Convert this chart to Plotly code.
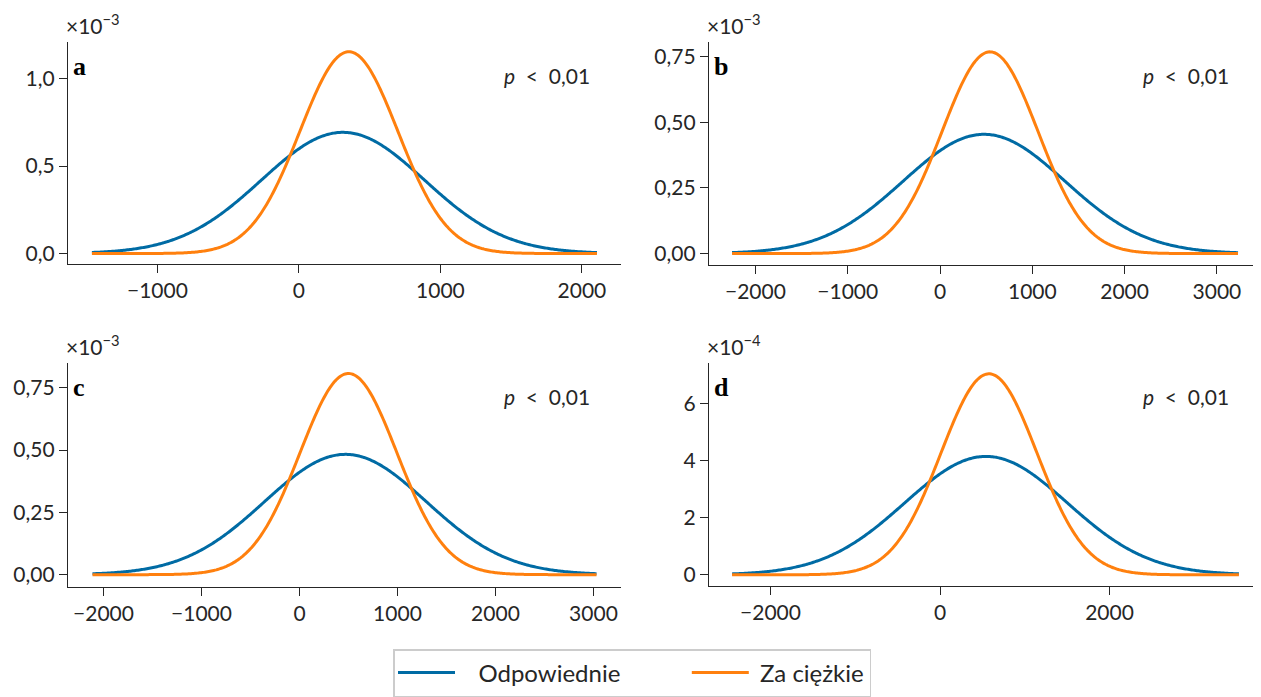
import numpy as np
import plotly.graph_objects as go
from plotly.subplots import make_subplots

# fitted normal distributions (mean, sd) per panel
panels = ["a", "b", "c", "d"]
mean_odp = [311, 477, 469, 543]
sd_odp = [576, 878, 826, 961]
mean_zac = [353, 542, 500, 578]
sd_zac = [346, 519, 494, 566]
# range over which curves are drawn
x_start = [-1463, -2253, -2112, -2454]
x_end = [2106, 3229, 3031, 3527]

# axes
x_ranges = [[-1632, 2276], [-2503, 3467], [-2362, 3281], [-2726, 3776]]
y_ranges = [[-0.057e-3, 1.21e-3], [-0.0417e-3, 0.807e-3], [-0.048e-3, 0.85e-3], [-0.38e-4, 7.43e-4]]
x_ticks = [[-1000, 0, 1000, 2000],
           [-2000, -1000, 0, 1000, 2000, 3000],
           [-2000, -1000, 0, 1000, 2000, 3000],
           [-2000, 0, 2000]]
y_ticks = [[0, 0.5e-3, 1.0e-3],
           [0, 0.25e-3, 0.5e-3, 0.75e-3],
           [0, 0.25e-3, 0.5e-3, 0.75e-3],
           [0, 2e-4, 4e-4, 6e-4]]
y_ticktext = [["0,0", "0,5", "1,0"],
              ["0,00", "0,25", "0,50", "0,75"],
              ["0,00", "0,25", "0,50", "0,75"],
              ["0", "2", "4", "6"]]
exponents = ["−3", "−3", "−3", "−4"]
p_text = "<i>p</i>  <  0,01"

series_names = ["Odpowiednie", "Za ciężkie"]
c_blue = "#006BA4"
c_orange = "#FF800E"
ink = "#262626"
font_main = "Lato"
nb = "\u00a0"


def normal_pdf(x, m, s):
    return np.exp(-0.5 * ((x - m) / s) ** 2) / (s * np.sqrt(2 * np.pi))


fig = make_subplots(rows=2, cols=2)

# the page body has an 8px margin, so the figure is shrunk and shifted by it
OFF = 8
W, H = 1261 - OFF, 697 - OFF
dom_x = [[68, 621], [709, 1260], [68, 621], [709, 1260]]
dom_y = [[42, 265], [42, 266], [365, 590], [365, 589]]

# legend labels, padded so the entries spread like the original legend
legend_labels = [nb * 3 + series_names[0] + nb * 10, nb + series_names[1]]

for i, p in enumerate(panels):
    r, c = i // 2 + 1, i % 2 + 1
    x = np.linspace(x_start[i], x_end[i], 400)
    fig.add_trace(go.Scatter(x=x, y=normal_pdf(x, mean_odp[i], sd_odp[i]), mode="lines",
                             line=dict(color=c_blue, width=3, simplify=False), name=legend_labels[0],
                             legendgroup="odp", showlegend=(i == 0)), row=r, col=c)
    fig.add_trace(go.Scatter(x=x, y=normal_pdf(x, mean_zac[i], sd_zac[i]), mode="lines",
                             line=dict(color=c_orange, width=3, simplify=False), name=legend_labels[1],
                             legendgroup="zac", showlegend=(i == 0)), row=r, col=c)

    ax = "" if i == 0 else str(i + 1)
    fig.layout["xaxis" + ax].update(
        domain=[(dom_x[i][0] - OFF) / W, (dom_x[i][1] - OFF) / W], range=x_ranges[i],
        tickvals=x_ticks[i], ticktext=[str(v).replace("-", "−") for v in x_ticks[i]],
        showgrid=False, zeroline=False, showline=True, linecolor=ink, linewidth=1.4,
        ticks="outside", ticklen=8, tickwidth=1.3, tickcolor=ink,
        tickfont=dict(family=font_main, size=21, color=ink))
    fig.layout["yaxis" + ax].update(
        domain=[1 - (dom_y[i][1] - OFF) / H, 1 - (dom_y[i][0] - OFF) / H], range=y_ranges[i],
        tickvals=y_ticks[i], ticktext=y_ticktext[i],
        showgrid=False, zeroline=False, showline=True, linecolor=ink, linewidth=1.4,
        ticks="outside", ticklen=8, tickwidth=1.3, tickcolor=ink,
        tickfont=dict(family=font_main, size=21, color=ink))

    xd = "x" + ax + " domain"
    yd = "y" + ax + " domain"
    fig.add_annotation(text="×10<sup>" + exponents[i] + "</sup>", xref=xd, yref=yd,
                       x=0, y=1, xanchor="left", yanchor="bottom", yshift=2, xshift=-4,
                       showarrow=False, font=dict(family=font_main, size=21, color=ink))
    fig.add_annotation(text="<b>" + p + "</b>", xref=xd, yref=yd, x=0.006, y=0.888,
                       xanchor="left", yanchor="middle", showarrow=False,
                       font=dict(family="Liberation Serif", size=26, color="black"))
    fig.add_annotation(text=p_text, xref=xd, yref=yd, x=0.948, y=0.85,
                       xanchor="right", yanchor="middle", showarrow=False,
                       font=dict(family=font_main, size=21, color=ink))

fig.update_layout(
    width=W, height=H,
    margin=dict(l=0, r=0, t=0, b=0),
    paper_bgcolor="white", plot_bgcolor="white",
    legend=dict(orientation="h", x=(393 - OFF) / W, xanchor="left",
                y=1 - (653 - OFF) / H, yanchor="top",
                bgcolor="white", bordercolor="#cccccc", borderwidth=1.5,
                font=dict(family=font_main, size=24, color=ink),
                itemwidth=57),
)

fig.write_html("out.html")
